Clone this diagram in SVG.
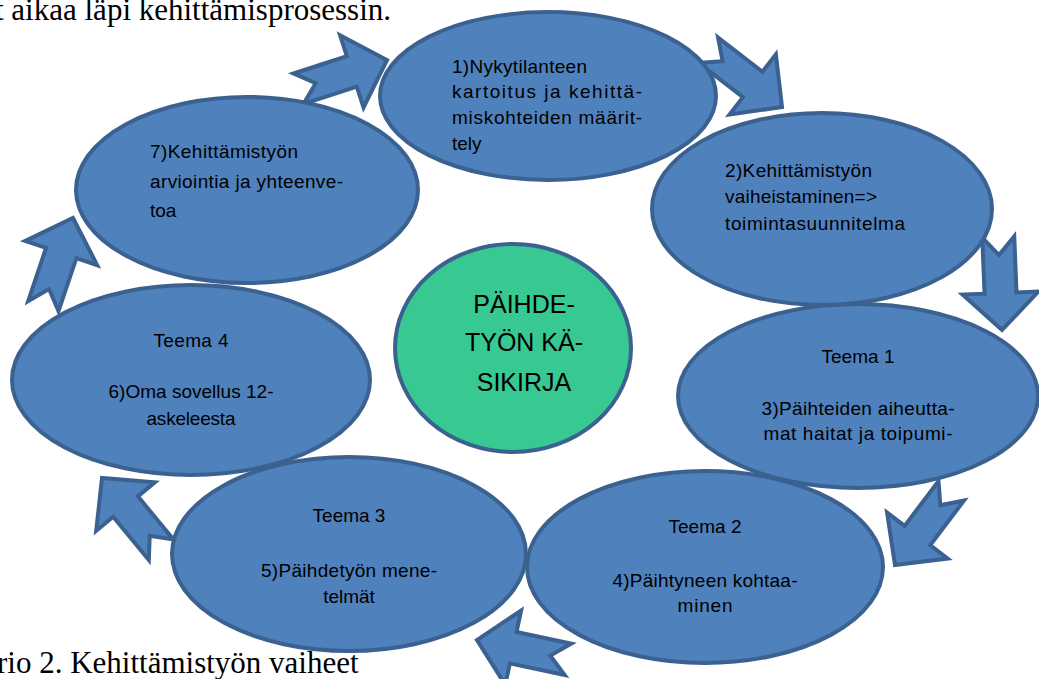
<svg xmlns="http://www.w3.org/2000/svg" xmlns:xlink="http://www.w3.org/1999/xlink" width="1039" height="679" viewBox="0 0 1039 679">
<style>
.shape{fill:#4F81BD;stroke:#3B6190;stroke-width:4;stroke-linejoin:miter}
.green{fill:#37C991;stroke:#3B6190;stroke-width:4}
.lbl{font-family:"Liberation Sans",Arial,sans-serif;font-size:19px;fill:#000}
.mid{text-anchor:middle}
.big{font-size:25px}
.cap{font-family:"Liberation Serif","Times New Roman",serif;font-size:31px;fill:#000}
</style>
<defs>
<polygon id="arr" points="-93,-16 -37,-16 -37,-38 0,0 -37,38 -37,16 -93,16 -75,0"/>
</defs>
<rect width="1039" height="679" fill="#fff"/>
<text class="cap" x="-5" y="20">t aikaa läpi kehittämisprosessin.</text>
<text class="cap" x="-3" y="673">rio 2. Kehittämistyön vaiheet</text>
<g id="connectors">
<use xlink:href="#arr" class="shape" transform="translate(387,60) rotate(-18)"/>
<use xlink:href="#arr" class="shape" transform="translate(782,107) rotate(37.6)"/>
<use xlink:href="#arr" class="shape" transform="translate(1002,330) rotate(87.7)"/>
<use xlink:href="#arr" class="shape" transform="translate(895,565) rotate(127.2)"/>
<use xlink:href="#arr" class="shape" transform="translate(477,640) rotate(192)"/>
<use xlink:href="#arr" class="shape" transform="translate(102,478) rotate(230.5)"/>
<use xlink:href="#arr" class="shape" transform="translate(73,218) rotate(-71.4)"/>
</g>
<g id="node-teema3">
<ellipse class="shape" cx="349" cy="554" rx="177" ry="97"/>
<text class="lbl mid" x="349" y="522">Teema 3</text>
<text class="lbl mid" x="349" y="577" textLength="176" lengthAdjust="spacing">5)Päihdetyön mene-</text>
<text class="lbl mid" x="349" y="603">telmät</text>
</g>
<g id="node-teema2">
<ellipse class="shape" cx="705" cy="567" rx="178" ry="96"/>
<text class="lbl mid" x="705" y="533" textLength="73" lengthAdjust="spacing">Teema 2</text>
<text class="lbl mid" x="705" y="587" textLength="185" lengthAdjust="spacing">4)Päihtyneen kohtaa-</text>
<text class="lbl mid" x="705" y="612" textLength="55" lengthAdjust="spacing">minen</text>
</g>
<g id="node-teema1">
<ellipse class="shape" cx="858" cy="396" rx="180" ry="92"/>
<text class="lbl mid" x="858" y="363" textLength="73" lengthAdjust="spacing">Teema 1</text>
<text class="lbl mid" x="858" y="415" textLength="193" lengthAdjust="spacing">3)Päihteiden aiheutta-</text>
<text class="lbl mid" x="858" y="440" textLength="189" lengthAdjust="spacing">mat haitat ja toipumi-</text>
</g>
<g id="node-teema4">
<ellipse class="shape" cx="191" cy="380" rx="179" ry="95"/>
<text class="lbl mid" x="191" y="347" textLength="75" lengthAdjust="spacing">Teema 4</text>
<text class="lbl mid" x="191" y="398" textLength="165" lengthAdjust="spacing">6)Oma sovellus 12-</text>
<text class="lbl mid" x="191" y="425" textLength="89" lengthAdjust="spacing">askeleesta</text>
</g>
<g id="node-7">
<ellipse class="shape" cx="247" cy="190" rx="171" ry="93"/>
<text class="lbl" x="150" y="158" textLength="148" lengthAdjust="spacing">7)Kehittämistyön</text>
<text class="lbl" x="150" y="188" textLength="193" lengthAdjust="spacing">arviointia ja yhteenve-</text>
<text class="lbl" x="150" y="217">toa</text>
</g>
<g id="node-2">
<ellipse class="shape" cx="822" cy="209" rx="170" ry="96"/>
<text class="lbl" x="725" y="177" textLength="147" lengthAdjust="spacing">2)Kehittämistyön</text>
<text class="lbl" x="725" y="203" textLength="152" lengthAdjust="spacing">vaiheistaminen=&gt;</text>
<text class="lbl" x="725" y="230" textLength="180" lengthAdjust="spacing">toimintasuunnitelma</text>
</g>
<g id="node-1">
<ellipse class="shape" cx="548" cy="96" rx="168" ry="84"/>
<text class="lbl" x="452" y="73" textLength="135" lengthAdjust="spacing">1)Nykytilanteen</text>
<text class="lbl" x="452" y="98" textLength="190" lengthAdjust="spacing">kartoitus ja kehittä-</text>
<text class="lbl" x="452" y="124" textLength="190" lengthAdjust="spacing">miskohteiden määrit-</text>
<text class="lbl" x="452" y="150">tely</text>
</g>
<g id="node-center">
<ellipse class="green" cx="513" cy="348" rx="118" ry="104"/>
<text class="lbl big mid" x="524" y="313">PÄIHDE-</text>
<text class="lbl big mid" x="524" y="351">TYÖN KÄ-</text>
<text class="lbl big mid" x="524" y="391">SIKIRJA</text>
</g>
</svg>
